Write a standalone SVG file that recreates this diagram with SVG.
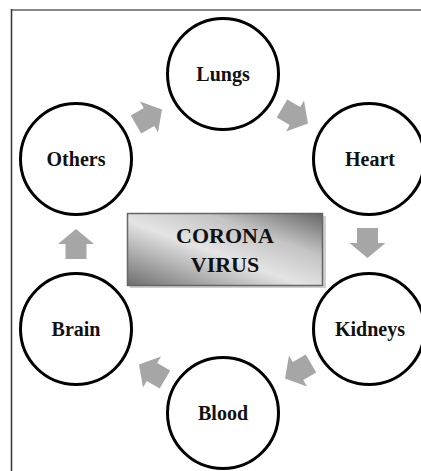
<svg xmlns="http://www.w3.org/2000/svg" width="421" height="471" viewBox="0 0 421 471">
<style>
.node circle{fill:#fff;stroke:#000;stroke-width:3}
.lbl{font-family:"Liberation Serif","Times New Roman",serif;font-weight:bold;font-size:20px;fill:#111;text-anchor:middle}
.ctr{font-family:"Liberation Serif","Times New Roman",serif;font-weight:bold;font-size:22px;fill:#111;text-anchor:middle}
.arr{fill:#a6a6a6}
</style>
<defs>
<polygon id="ar" points="-15,-10.5 0,-10.5 0,-18 15,0 0,18 0,10.5 -15,10.5"/>
<linearGradient id="g" x1="0" y1="1" x2="1" y2="0">
<stop offset="0" stop-color="#6e6e6e"/>
<stop offset="0.45" stop-color="#e4e4e4"/>
<stop offset="0.7" stop-color="#c4c4c4"/>
<stop offset="1" stop-color="#666"/>
</linearGradient>
</defs>
<rect width="421" height="471" fill="#fff"/>
<line x1="11" y1="10" x2="421" y2="10" stroke="#888" stroke-width="2"/>
<line x1="11.5" y1="9" x2="11.5" y2="471" stroke="#333" stroke-width="1.5"/>
<g id="connectors" class="arr">
<use href="#ar" transform="translate(149,117) rotate(-30)"/>
<use href="#ar" transform="translate(295,116) rotate(30)"/>
<use href="#ar" transform="translate(367.5,243) rotate(90)"/>
<use href="#ar" transform="translate(298,371) rotate(150)"/>
<use href="#ar" transform="translate(152,372) rotate(210)"/>
<use href="#ar" transform="translate(76,244) rotate(-90)"/>
</g>
<g id="center">
<rect x="130" y="216" width="196" height="72" fill="#d0d0d0"/>
<rect x="127.5" y="213.5" width="195" height="72" fill="url(#g)" stroke="#666" stroke-width="1.5"/>
<text class="ctr" x="225" y="243">CORONA</text>
<text class="ctr" x="225" y="271.5">VIRUS</text>
</g>
<g id="lungs" class="node"><circle cx="223" cy="74" r="55.5"/><text class="lbl" x="223" y="81">Lungs</text></g>
<g id="heart" class="node"><circle cx="369" cy="159" r="55.5"/><text class="lbl" x="370" y="166">Heart</text></g>
<g id="kidneys" class="node"><circle cx="369" cy="329" r="55.5"/><text class="lbl" x="370" y="335.5">Kidneys</text></g>
<g id="blood" class="node"><circle cx="223" cy="413" r="55.5"/><text class="lbl" x="223" y="420">Blood</text></g>
<g id="brain" class="node"><circle cx="76" cy="329" r="55.5"/><text class="lbl" x="76" y="335.5">Brain</text></g>
<g id="others" class="node"><circle cx="76" cy="159" r="55.5"/><text class="lbl" x="76" y="166">Others</text></g>
</svg>
